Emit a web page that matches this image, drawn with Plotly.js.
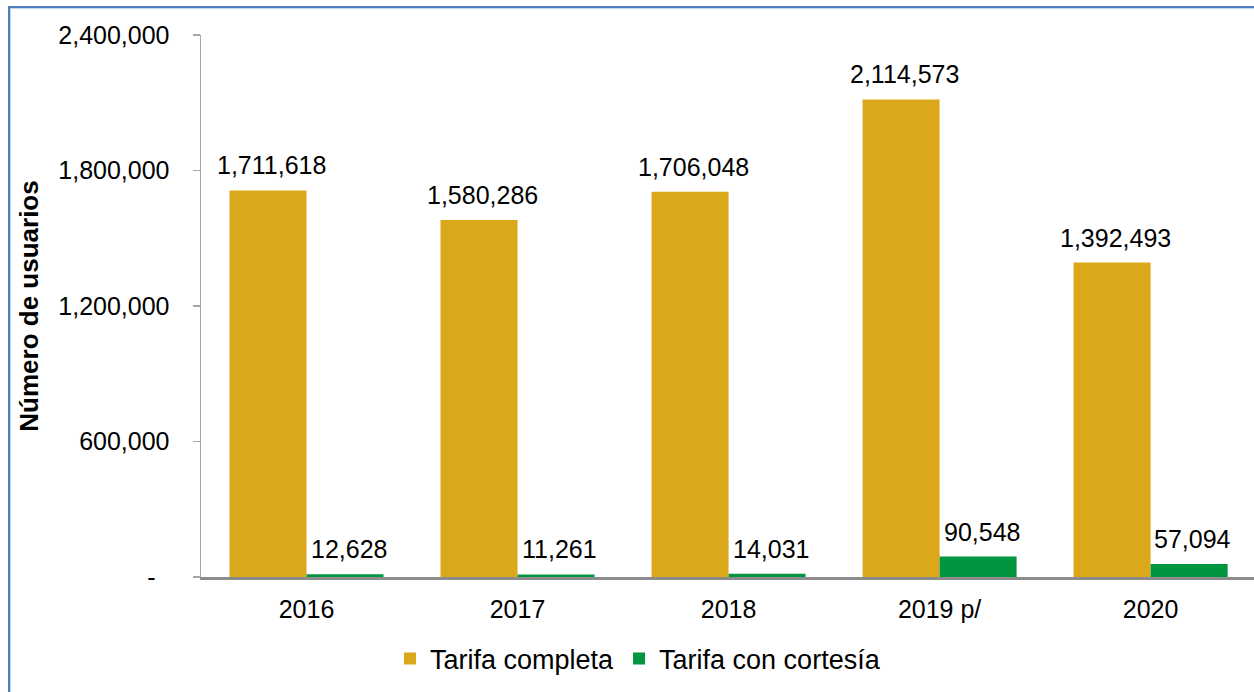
<!DOCTYPE html>
<html>
<head>
<meta charset="utf-8">
<script src="https://cdn.plot.ly/plotly-3.0.1.min.js"></script>
<style>
  html, body { margin: 0; padding: 0; background: #ffffff; }
  #wrap { position: relative; width: 1254px; height: 692px; overflow: hidden; }
  #frame { position: absolute; left: 8px; top: 6px; width: 1300px; height: 800px;
           border-top: 2px solid #4f7fc0; border-left: 2px solid #4f7fc0;
           box-shadow: inset 1px 1px 0 #c5d5ea; pointer-events: none; }
  #chart { position: absolute; left: 0; top: 0; width: 1254px; height: 692px; }
</style>
</head>
<body>
<div id="wrap">
  <div id="frame"></div>
  <div id="chart"></div>
</div>
<script>
const categories = ["2016", "2017", "2018", "2019 p/", "2020"];
const tarifaCompleta = [1711618, 1580286, 1706048, 2114573, 1392493];
const tarifaCortesia = [12628, 11261, 14031, 90548, 57094];
const seriesNames = ["Tarifa completa", "Tarifa con cortesía"];
const yTickVals = [0, 600000, 1200000, 1800000, 2400000];
const yTickText = ["-\u00a0\u00a0", "600,000", "1,200,000", "1,800,000", "2,400,000"];

const FONT = "Liberation Sans, Arial, sans-serif";
const fmt = v => v.toLocaleString("en-US");

const traces = [
  { type: "bar", name: seriesNames[0], x: categories, y: tarifaCompleta,
    marker: { color: "#DCA81B" }, hoverinfo: "skip" },
  { type: "bar", name: seriesNames[1], x: categories, y: tarifaCortesia,
    marker: { color: "#00963F" }, hoverinfo: "skip" }
];

const annotations = [];
categories.forEach((c, i) => {
  annotations.push({ x: i, y: tarifaCompleta[i], xref: "x", yref: "y",
    text: fmt(tarifaCompleta[i]), showarrow: false, xshift: -35, yshift: 25,
    yanchor: "middle", font: { family: FONT, size: 25, color: "#000" } });
  annotations.push({ x: i, y: tarifaCortesia[i], xref: "x", yref: "y",
    text: fmt(tarifaCortesia[i]), showarrow: false, xshift: 42, yshift: 25,
    yanchor: "middle", font: { family: FONT, size: 25, color: "#000" } });
});

const layout = {
  width: 1254, height: 692,
  margin: { l: 201, r: 0, t: 35, b: 115 },
  paper_bgcolor: "rgba(0,0,0,0)",
  plot_bgcolor: "rgba(0,0,0,0)",
  font: { family: FONT, size: 25, color: "#000" },
  barmode: "group", bargap: 0.27, bargroupgap: 0,
  showlegend: true,
  legend: { orientation: "h", x: 0.415, xanchor: "center", y: -0.151, yanchor: "middle",
            font: { family: FONT, size: 27, color: "#000" }, itemwidth: 30, traceorder: "normal" },
  xaxis: {
    type: "category", range: [-0.5, 4.49], fixedrange: true,
    showline: true, linecolor: "#8c8c8c", linewidth: 2.5,
    ticks: "", showgrid: false, zeroline: false,
    tickfont: { family: FONT, size: 25, color: "#000" }, ticklabelstandoff: 8
  },
  yaxis: {
    range: [0, 2400000], fixedrange: true,
    tickvals: yTickVals, ticktext: yTickText,
    showline: true, linecolor: "#a6a6a6", linewidth: 1.5,
    ticks: "outside", ticklen: 7, tickcolor: "#a6a6a6", tickwidth: 1.5,
    showgrid: false, zeroline: false,
    tickfont: { family: FONT, size: 25, color: "#000" }, ticklabelstandoff: 18,
    title: { text: "<b>Número de usuarios</b>", font: { family: FONT, size: 26, color: "#000" }, standoff: 12 }
  },
  annotations: annotations
};

Plotly.newPlot("chart", traces, layout, { displayModeBar: false, staticPlot: true });
</script>
</body>
</html>
